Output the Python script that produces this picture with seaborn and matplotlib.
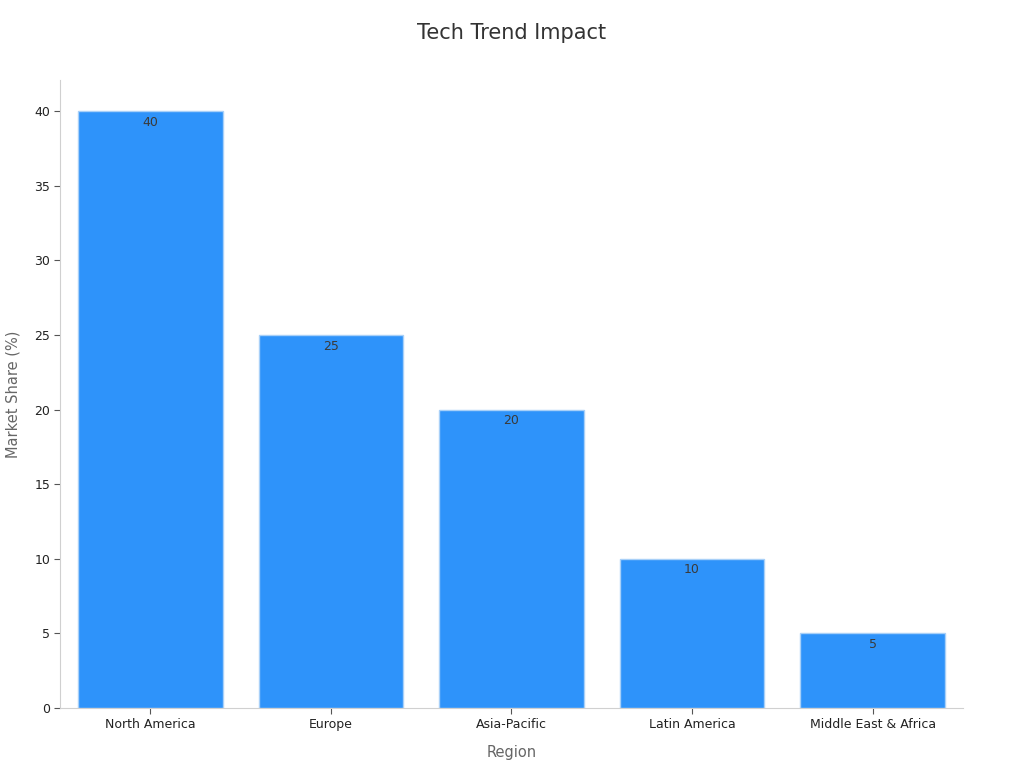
import matplotlib
matplotlib.use("Agg")
import matplotlib.pyplot as plt
import seaborn as sns
import pandas as pd

regions = ["North America", "Europe", "Asia-Pacific", "Latin America", "Middle East & Africa"]
share = [40, 25, 20, 10, 5]

df = pd.DataFrame({"Region": regions, "Market Share (%)": share})

sns.set_style("white", {"xtick.bottom": True, "ytick.left": True})
plt.rcParams["font.family"] = ["DejaVu Sans"]

fig = plt.figure(figsize=(10.24, 7.68), dpi=100)
ax = fig.add_axes([0.0586, 0.078, 0.8818, 0.818])

sns.barplot(data=df, x="Region", y="Market Share (%)", color="#2E93FA",
            saturation=1, width=0.8, edgecolor="#A8D0F8", linewidth=1, ax=ax)

for i, v in enumerate(share):
    ax.text(i, v - 0.3, str(v), ha="center", va="top", fontsize=9, color="#3a3a3a")

ax.set_xlim(-0.5, 4.5)
ax.set_ylim(0, 42.1)
ax.set_yticks(range(0, 41, 5))
ax.tick_params(axis="both", labelsize=9, labelcolor="#222222", color="#555555",
               length=4, width=0.8, pad=3)
ax.set_xlabel("Region", fontsize=10.5, color="#666666", labelpad=10)
ax.set_ylabel("Market Share (%)", fontsize=10.5, color="#666666", labelpad=10)

for s in ["top", "right"]:
    ax.spines[s].set_visible(False)
for s in ["left", "bottom"]:
    ax.spines[s].set_color("#d0d0d0")

fig.suptitle("Tech Trend Impact", fontsize=15, color="#333333", y=0.97)

fig.savefig("out.png", dpi=100)
